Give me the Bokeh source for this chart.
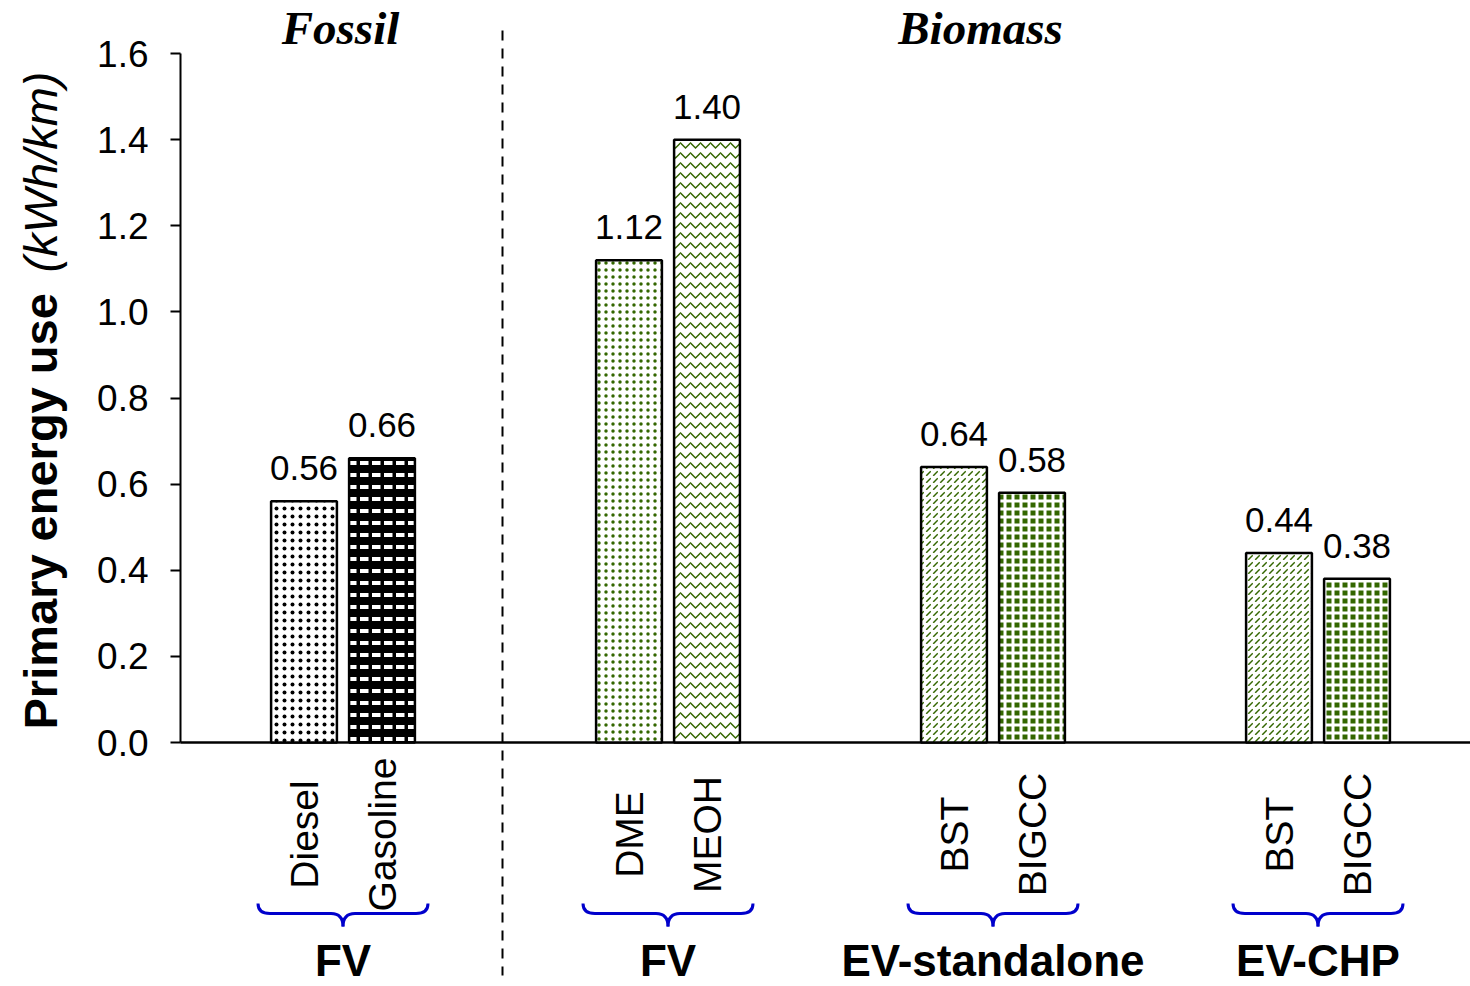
import math
from bokeh.plotting import figure
from bokeh.models import Range1d, FixedTicker, NumeralTickFormatter
from bokeh.core.properties import value
from bokeh.embed import file_html
from bokeh.resources import INLINE

# ---------------- data ----------------
group_labels = ["FV", "FV", "EV-standalone", "EV-CHP"]
section_titles = ["Fossil", "Biomass"]
fuel_labels = ["Diesel", "Gasoline", "DME", "MEOH", "BST", "BIGCC", "BST", "BIGCC"]
energy_use = [0.56, 0.66, 1.12, 1.40, 0.64, 0.58, 0.44, 0.38]
bar_group = [0, 0, 1, 1, 2, 2, 3, 3]
y_ticks = [0.0, 0.2, 0.4, 0.6, 0.8, 1.0, 1.2, 1.4, 1.6]

# ---------------- styles ----------------
GREEN = "#336600"
bar_styles = [
    dict(fill_color="white", hatch_pattern="dot", hatch_color="black", hatch_scale=8, hatch_weight=3),
    dict(fill_color="black", hatch_pattern="horizontal_dash", hatch_color="white", hatch_scale=12, hatch_weight=4),
    dict(fill_color="white", hatch_pattern="dot", hatch_color=GREEN, hatch_scale=7, hatch_weight=5),
    dict(fill_color="white", hatch_pattern="horizontal_wave", hatch_color=GREEN, hatch_scale=10, hatch_weight=1.5),
    dict(fill_color="white", hatch_pattern="right_diagonal_dash", hatch_color=GREEN, hatch_scale=7, hatch_weight=1.5),
    dict(fill_color=GREEN, hatch_pattern="cross", hatch_color="white", hatch_scale=8, hatch_weight=3),
    dict(fill_color="white", hatch_pattern="right_diagonal_dash", hatch_color=GREEN, hatch_scale=7, hatch_weight=1.5),
    dict(fill_color=GREEN, hatch_pattern="cross", hatch_color="white", hatch_scale=8, hatch_weight=3),
]

# ---------------- layout helpers (pixel scale of the frame) ----------------
PX_X = 81.25      # pixels per x unit
PX_Y = 430.625    # pixels per y unit
X0_PX, Y0_PX = 180, 742  # pixel position of x=0 (y axis) and y=0 (baseline)


def dx(px):
    return (px - X0_PX) / PX_X


def dy(py):
    return (Y0_PX - py) / PX_Y


W, H = 1470, 986
p = figure(width=W, height=H, output_backend="svg", toolbar_location=None,
           x_range=Range1d(dx(0), dx(W)), y_range=Range1d(dy(H), dy(0)),
           x_axis_location=None, y_axis_location="left",
           min_border_left=0, min_border_right=0, min_border_top=0, min_border_bottom=0)
p.outline_line_color = None
p.grid.visible = False
p.background_fill_color = "white"
p.border_fill_color = "white"

FONT = value("Liberation Sans")

# y axis, pinned at x = 0 inside the frame
ax = p.yaxis[0]
ax.fixed_location = 0
ax.ticker = FixedTicker(ticks=y_ticks)
ax.formatter = NumeralTickFormatter(format="0.0")
ax.bounds = (0, 1.6)
ax.major_tick_in = 0
ax.major_tick_out = 10
ax.minor_tick_line_color = None
ax.axis_line_width = 2
ax.major_tick_line_width = 2
ax.major_label_text_font = "Liberation Sans"
ax.major_label_text_font_size = "37px"
ax.major_label_text_color = "black"
ax.major_label_standoff = 22

# x baseline
p.segment(x0=[0], y0=[0], x1=[dx(W)], y1=[0], line_color="black", line_width=2.5)

# bars
centers = [2 + 4 * g + (-0.48 if i % 2 == 0 else 0.48) for i, g in enumerate(bar_group)]
for i, (xc, v) in enumerate(zip(centers, energy_use)):
    p.vbar(x=[xc], top=[v], bottom=0, width=0.81, line_color="black", line_width=2.5,
           **bar_styles[i])

# value labels
p.text(x=centers, y=energy_use, text=[f"{v:.2f}" for v in energy_use],
       text_align="center", text_baseline="bottom", y_offset=-21,
       text_font=FONT, text_font_size="35px", text_color="black")

# rotated fuel labels
p.text(x=centers, y=[dy(834)] * len(centers), text=fuel_labels, angle=math.pi / 2,
       text_align="center", text_baseline="middle",
       text_font=FONT, text_font_size="39px", text_color="black")

# braces and group labels
BLUE = "#0000CC"
gcenters = [2 + 4 * g for g in range(len(group_labels))]
half = 85 / PX_X
r = 12 / PX_X
y_top, y_mid, y_tip = dy(903), dy(913), dy(926)
for gc in gcenters:
    xl, xr = gc - half, gc + half
    p.quadratic(x0=[xl, xr], y0=[y_top, y_top], x1=[xl + r, xr - r], y1=[y_mid, y_mid],
                cx=[xl, xr], cy=[y_mid, y_mid], line_color=BLUE, line_width=3)
    p.segment(x0=[xl + r, gc + r], y0=[y_mid, y_mid], x1=[gc - r, xr - r], y1=[y_mid, y_mid],
              line_color=BLUE, line_width=3)
    p.quadratic(x0=[gc - r, gc + r], y0=[y_mid, y_mid], x1=[gc, gc], y1=[y_tip, y_tip],
                cx=[gc, gc], cy=[y_mid, y_mid], line_color=BLUE, line_width=3)

p.text(x=gcenters, y=[dy(960)] * len(gcenters), text=group_labels,
       text_align="center", text_baseline="middle",
       text_font=FONT, text_font_style="bold", text_font_size="44px", text_color="black")

# section separator and titles
p.segment(x0=[dx(502)], y0=[dy(30)], x1=[dx(502)], y1=[dy(975)], line_color="black",
          line_width=2, line_dash="10 8")
p.text(x=[dx(340), dx(980)], y=[dy(27)] * 2, text=section_titles,
       text_align="center", text_baseline="middle",
       text_font=value("Liberation Serif"), text_font_style="bold italic",
       text_font_size="47px", text_color="black")

# y-axis title (bold + italic parts)
p.text(x=[dx(40)], y=[dy(729)], text=["Primary energy use"], angle=math.pi / 2,
       text_align="left", text_baseline="middle",
       text_font=FONT, text_font_style="bold", text_font_size="47px", text_color="black")
p.text(x=[dx(40)], y=[dy(272)], text=["(kWh/km)"], angle=math.pi / 2,
       text_align="left", text_baseline="middle",
       text_font=FONT, text_font_style="italic", text_font_size="47px", text_color="black")

open("out.html", "w").write(file_html(p, INLINE))
